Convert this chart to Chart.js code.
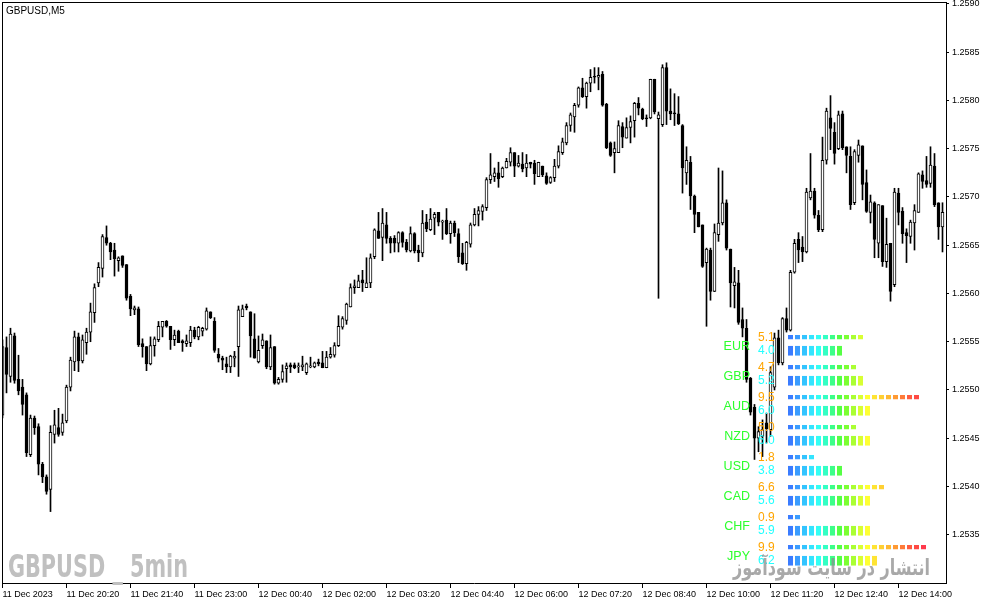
<!DOCTYPE html>
<html>
<head>
<meta charset="utf-8">
<script src="https://cdn.jsdelivr.net/npm/chart.js@4"></script>
<style>
  body { margin: 0; background: #fff; }
  #wrap { position: relative; width: 987px; height: 605px; }
  #main { position: absolute; left: 0; top: 0; }
  #strength { position: absolute; left: 700px; top: 329px; }
</style>
</head>
<body>
<div id="wrap">
  <canvas id="main" width="987" height="605"></canvas>
  <canvas id="strength" width="246" height="254"></canvas>
</div>
<script>
// GBPUSD M5 candles (one entry per bar)
const opens = [
  1.25474,1.25544,1.25514,1.25556,1.25511,1.25503,1.25495,1.25433,1.25471,1.25462,
  1.25423,1.25410,1.25397,1.25454,1.25461,1.25456,1.25468,1.25503,1.25529,1.25555,
  1.25530,1.25549,1.25560,1.25580,1.25611,1.25626,1.25658,1.25652,1.25645,1.25634,
  1.25639,1.25630,1.25597,1.25583,1.25584,1.25548,1.25545,1.25527,1.25546,1.25552,
  1.25565,1.25571,1.25566,1.25552,1.25561,1.25551,1.25548,1.25549,1.25562,1.25555,
  1.25561,1.25563,1.25581,1.25571,1.25537,1.25533,1.25527,1.25524,1.25533,1.25545,
  1.25576,1.25587,1.25581,1.25553,1.25529,1.25546,1.25551,1.25524,1.25545,1.25507,
  1.25511,1.25522,1.25526,1.25526,1.25524,1.25524,1.25518,1.25524,1.25524,1.25529,
  1.25528,1.25523,1.25534,1.25536,1.25546,1.25565,1.25572,1.25586,1.25606,1.25606,
  1.25614,1.25606,1.25611,1.25638,1.25665,1.25658,1.25671,1.25657,1.25657,1.25652,
  1.25663,1.25653,1.25644,1.25662,1.25645,1.25642,1.25674,1.25666,1.25678,1.25684,
  1.25674,1.25676,1.25662,1.25673,1.25662,1.25642,1.25631,1.25651,1.25671,1.25682,
  1.25685,1.25689,1.25718,1.25721,1.25725,1.25721,1.25730,1.25736,1.25746,1.25732,
  1.25734,1.25730,1.25736,1.25735,1.25721,1.25732,1.25722,1.25715,1.25720,1.25732,
  1.25746,1.25756,1.25774,1.25783,1.25795,1.25813,1.25804,1.25818,1.25825,1.25824,
  1.25827,1.25796,1.25756,1.25746,1.25746,1.25773,1.25761,1.25772,1.25779,1.25797,
  1.25791,1.25782,1.25782,1.25822,1.25781,1.25775,1.25834,1.25789,1.25787,1.25786,
  1.25774,1.25725,1.25736,1.25701,1.25684,1.25671,1.25632,1.25645,1.25602,1.25661,
  1.25673,1.25694,1.25646,1.25608,1.25611,1.25573,1.25564,1.25512,1.25482,1.25450,
  1.25452,1.25466,1.25459,1.25503,1.25554,1.25528,1.25574,1.25562,1.25622,1.25656,
  1.25648,1.25643,1.25699,1.25706,1.25681,1.25666,1.25738,1.25782,1.25767,1.25750,
  1.25786,1.25752,1.25742,1.25694,1.25743,1.25753,1.25715,1.25684,1.25694,1.25652,
  1.25691,1.25633,1.25652,1.25609,1.25704,1.25685,1.25663,1.25659,1.25673,1.25684,
  1.25723,1.25717,1.25714,1.25732,1.25694,1.25669
];
const highs = [
  1.25552,1.25555,1.25564,1.25559,1.25536,1.25511,1.25497,1.25474,1.25473,1.25465,
  1.25425,1.25412,1.25463,1.25479,1.25481,1.25475,1.25505,1.25534,1.25561,1.25559,
  1.25557,1.25564,1.25590,1.25610,1.25632,1.25661,1.25670,1.25653,1.25652,1.25638,
  1.25639,1.25630,1.25599,1.25587,1.25586,1.25553,1.25545,1.25555,1.25555,1.25571,
  1.25571,1.25572,1.25566,1.25562,1.25562,1.25552,1.25557,1.25566,1.25565,1.25566,
  1.25565,1.25585,1.25581,1.25575,1.25543,1.25535,1.25534,1.25536,1.25540,1.25587,
  1.25588,1.25589,1.25581,1.25579,1.25556,1.25558,1.25551,1.25557,1.25545,1.25513,
  1.25526,1.25528,1.25528,1.25528,1.25528,1.25535,1.25528,1.25534,1.25529,1.25532,
  1.25540,1.25540,1.25544,1.25549,1.25577,1.25576,1.25590,1.25610,1.25614,1.25619,
  1.25624,1.25637,1.25641,1.25667,1.25684,1.25688,1.25684,1.25659,1.25660,1.25664,
  1.25664,1.25656,1.25669,1.25663,1.25650,1.25686,1.25682,1.25688,1.25684,1.25684,
  1.25676,1.25688,1.25675,1.25675,1.25667,1.25652,1.25654,1.25673,1.25688,1.25690,
  1.25692,1.25720,1.25745,1.25730,1.25736,1.25731,1.25740,1.25751,1.25746,1.25743,
  1.25746,1.25744,1.25736,1.25738,1.25736,1.25732,1.25725,1.25721,1.25739,1.25753,
  1.25761,1.25777,1.25787,1.25797,1.25814,1.25823,1.25819,1.25832,1.25834,1.25834,
  1.25830,1.25797,1.25757,1.25757,1.25779,1.25777,1.25782,1.25784,1.25798,1.25803,
  1.25792,1.25785,1.25822,1.25822,1.25788,1.25837,1.25839,1.25812,1.25807,1.25804,
  1.25775,1.25752,1.25742,1.25702,1.25684,1.25671,1.25647,1.25647,1.25672,1.25730,
  1.25727,1.25697,1.25646,1.25627,1.25624,1.25585,1.25573,1.25513,1.25485,1.25462,
  1.25469,1.25476,1.25524,1.25559,1.25562,1.25575,1.25585,1.25624,1.25656,1.25663,
  1.25659,1.25709,1.25745,1.25709,1.25686,1.25762,1.25792,1.25805,1.25777,1.25789,
  1.25789,1.25752,1.25752,1.25749,1.25759,1.25753,1.25728,1.25702,1.25695,1.25692,
  1.25691,1.25678,1.25652,1.25709,1.25709,1.25689,1.25667,1.25676,1.25692,1.25725,
  1.25727,1.25742,1.25752,1.25745,1.25694,1.25694
];
const lows = [
  1.25471,1.25497,1.25508,1.25507,1.25495,1.25474,1.25431,1.25431,1.25454,1.25412,
  1.25404,1.25392,1.25374,1.25445,1.25452,1.25453,1.25466,1.25499,1.25520,1.25519,
  1.25528,1.25537,1.25550,1.25570,1.25607,1.25617,1.25650,1.25635,1.25618,1.25623,
  1.25627,1.25593,1.25577,1.25578,1.25545,1.25534,1.25520,1.25526,1.25535,1.25550,
  1.25555,1.25565,1.25542,1.25546,1.25549,1.25540,1.25545,1.25545,1.25553,1.25552,
  1.25556,1.25562,1.25574,1.25539,1.25529,1.25521,1.25518,1.25518,1.25524,1.25514,
  1.25576,1.25583,1.25534,1.25533,1.25528,1.25543,1.25522,1.25521,1.25506,1.25506,
  1.25508,1.25508,1.25518,1.25522,1.25518,1.25520,1.25516,1.25523,1.25523,1.25525,
  1.25523,1.25523,1.25533,1.25534,1.25545,1.25563,1.25568,1.25586,1.25600,1.25606,
  1.25602,1.25606,1.25606,1.25636,1.25657,1.25634,1.25652,1.25642,1.25643,1.25643,
  1.25648,1.25643,1.25643,1.25642,1.25633,1.25638,1.25664,1.25665,1.25661,1.25670,
  1.25656,1.25661,1.25652,1.25659,1.25632,1.25630,1.25624,1.25648,1.25670,1.25670,
  1.25676,1.25686,1.25714,1.25716,1.25710,1.25720,1.25730,1.25732,1.25721,1.25731,
  1.25726,1.25721,1.25730,1.25713,1.25721,1.25721,1.25713,1.25714,1.25716,1.25730,
  1.25744,1.25754,1.25768,1.25767,1.25793,1.25803,1.25792,1.25809,1.25818,1.25811,
  1.25794,1.25750,1.25742,1.25725,1.25746,1.25751,1.25761,1.25756,1.25762,1.25785,
  1.25780,1.25773,1.25781,1.25786,1.25595,1.25773,1.25775,1.25780,1.25774,1.25775,
  1.25704,1.25713,1.25687,1.25663,1.25669,1.25627,1.25566,1.25593,1.25602,1.25654,
  1.25671,1.25645,1.25586,1.25585,1.25568,1.25555,1.25508,1.25474,1.25428,1.25436,
  1.25431,1.25445,1.25452,1.25500,1.25526,1.25526,1.25560,1.25561,1.25621,1.25632,
  1.25633,1.25642,1.25697,1.25678,1.25664,1.25664,1.25734,1.25749,1.25734,1.25749,
  1.25749,1.25725,1.25687,1.25692,1.25736,1.25697,1.25684,1.25673,1.25637,1.25637,
  1.25628,1.25627,1.25592,1.25607,1.25671,1.25652,1.25632,1.25652,1.25645,1.25684,
  1.25709,1.25710,1.25710,1.25690,1.25656,1.25643
];
const closes = [
  1.25545,1.25516,1.25558,1.25510,1.25499,1.25485,1.25435,1.25471,1.25461,1.25423,
  1.25410,1.25395,1.25456,1.25464,1.25454,1.25466,1.25503,1.25531,1.25555,1.25530,
  1.25552,1.25560,1.25581,1.25606,1.25627,1.25659,1.25652,1.25643,1.25636,1.25637,
  1.25629,1.25595,1.25584,1.25585,1.25547,1.25545,1.25527,1.25546,1.25553,1.25566,
  1.25571,1.25566,1.25552,1.25557,1.25549,1.25549,1.25551,1.25562,1.25555,1.25565,
  1.25564,1.25582,1.25575,1.25541,1.25533,1.25531,1.25524,1.25535,1.25535,1.25583,
  1.25584,1.25585,1.25556,1.25533,1.25541,1.25552,1.25524,1.25544,1.25507,1.25511,
  1.25519,1.25525,1.25524,1.25523,1.25525,1.25526,1.25527,1.25525,1.25528,1.25527,
  1.25523,1.25534,1.25537,1.25546,1.25566,1.25574,1.25589,1.25606,1.25608,1.25613,
  1.25611,1.25611,1.25637,1.25666,1.25657,1.25673,1.25657,1.25652,1.25652,1.25663,
  1.25653,1.25645,1.25662,1.25644,1.25642,1.25673,1.25667,1.25677,1.25682,1.25674,
  1.25675,1.25662,1.25673,1.25663,1.25638,1.25631,1.25653,1.25671,1.25682,1.25686,
  1.25690,1.25718,1.25723,1.25725,1.25719,1.25730,1.25737,1.25746,1.25732,1.25735,
  1.25729,1.25735,1.25734,1.25724,1.25736,1.25723,1.25714,1.25720,1.25732,1.25747,
  1.25757,1.25774,1.25785,1.25795,1.25813,1.25804,1.25818,1.25824,1.25824,1.25826,
  1.25795,1.25751,1.25743,1.25750,1.25774,1.25762,1.25772,1.25778,1.25797,1.25792,
  1.25781,1.25781,1.25822,1.25788,1.25785,1.25834,1.25789,1.25786,1.25786,1.25776,
  1.25730,1.25738,1.25701,1.25682,1.25669,1.25628,1.25646,1.25602,1.25663,1.25673,
  1.25694,1.25647,1.25611,1.25612,1.25570,1.25564,1.25511,1.25477,1.25450,1.25457,
  1.25459,1.25460,1.25518,1.25554,1.25528,1.25574,1.25562,1.25622,1.25652,1.25645,
  1.25643,1.25705,1.25706,1.25681,1.25666,1.25738,1.25789,1.25771,1.25745,1.25785,
  1.25751,1.25743,1.25692,1.25747,1.25754,1.25713,1.25685,1.25695,1.25656,1.25692,
  1.25633,1.25651,1.25602,1.25705,1.25684,1.25662,1.25660,1.25674,1.25686,1.25724,
  1.25716,1.25713,1.25733,1.25692,1.25669,1.25684
];

// axis labels
const xTickBars = [0, 16, 32, 48, 64, 80, 96, 112, 128, 144, 160, 176, 192, 208, 224];
const xTickLabels = ['11 Dec 2023', '11 Dec 20:20', '11 Dec 21:40', '11 Dec 23:00', '12 Dec 00:40',
  '12 Dec 02:00', '12 Dec 03:20', '12 Dec 04:40', '12 Dec 06:00', '12 Dec 07:20', '12 Dec 08:40',
  '12 Dec 10:00', '12 Dec 11:20', '12 Dec 12:40', '12 Dec 14:00'];
const yTickValues = [1.2535, 1.2540, 1.2545, 1.2550, 1.2555, 1.2560, 1.2565, 1.2570, 1.2575, 1.2580, 1.2585, 1.2590];

// currency strength panel
const currencies = ['EUR', 'GBP', 'AUD', 'NZD', 'USD', 'CAD', 'CHF', 'JPY'];
const strengthUpper = [5.1, 4.7, 9.5, 5.0, 1.8, 6.6, 0.9, 9.9];
const strengthLower = [4.0, 5.2, 6.0, 6.0, 3.8, 5.6, 5.9, 6.2];

const segColors = ['#3a7cff', '#3a9cff', '#33c4ff', '#33e4ff', '#33fff4', '#33ffc4', '#3cff88', '#55ff44',
  '#7cff33', '#aaff33', '#d8ff33', '#ffff33', '#ffe433', '#ffd033', '#ffb833', '#ff9a33',
  '#ff7a38', '#ff5c40', '#ff4a44', '#ff3a4c'];

const uiFont = '"Liberation Sans", Arial, sans-serif';
Chart.defaults.font.family = uiFont;

// no extra room for labels hanging past the axis ends
function noPad(s) { s.paddingTop = 0; s.paddingBottom = 0; s.paddingLeft = 0; s.paddingRight = 0; }

// ---- main candlestick chart ----
const bodyFill = opens.map((o, i) => closes[i] >= o ? '#ffffff' : '#000000');

const framePlugin = {
  id: 'frame',
  beforeDatasetsDraw(chart) {
    const ctx = chart.ctx;
    ctx.save();
    ctx.fillStyle = '#c0c0c0';
    ctx.font = 'bold 32px "Liberation Sans Narrow", "DejaVu Sans Condensed", "Liberation Sans", sans-serif';
    ctx.textBaseline = 'alphabetic';
    const txt = 'GBPUSD _ 5min';
    const w = ctx.measureText(txt).width;
    ctx.translate(8, 577);
    ctx.scale(180 / w, 1);
    ctx.fillText(txt, 0, 0);
    ctx.restore();
  },
  afterDraw(chart) {
    const { ctx, chartArea: a } = chart;
    ctx.save();
    ctx.fillStyle = '#000';
    ctx.fillRect(a.left, a.top, a.right - a.left, 1);
    ctx.fillRect(a.left, a.top, 1, a.bottom - a.top);
    ctx.font = '10px ' + uiFont;
    ctx.textBaseline = 'alphabetic';
    ctx.fillText('GBPUSD,M5', 6, 14);
    ctx.restore();
  }
};

new Chart(document.getElementById('main'), {
  type: 'bar',
  data: {
    datasets: [
      {
        label: 'body',
        data: opens.map((o, i) => ({ x: i, y: [o, closes[i]] })),
        backgroundColor: bodyFill,
        borderColor: '#000',
        borderWidth: 1,
        borderSkipped: false,
        barThickness: 3,
        minBarLength: 1,
        grouped: false,
        order: 0
      },
      {
        label: 'wick',
        data: highs.map((h, i) => ({ x: i, y: [lows[i], h] })),
        backgroundColor: '#000',
        barThickness: 1,
        grouped: false,
        order: 1
      }
    ]
  },
  options: {
    responsive: false,
    animation: false,
    devicePixelRatio: 1,
    layout: { padding: { left: 2, top: 2 } },
    plugins: { legend: { display: false }, tooltip: { enabled: false } },
    scales: {
      x: {
        type: 'linear',
        offset: false,
        min: -0.125,
        max: 235.875,
        afterBuildTicks: s => { s.ticks = xTickBars.map(v => ({ value: v })); },
        afterFit: s => { s.height = 22; noPad(s); },
        grid: { drawOnChartArea: false, offset: false, tickLength: 5, color: '#000' },
        border: { color: '#000' },
        ticks: {
          align: 'start',
          padding: 1,
          autoSkip: false,
          maxRotation: 0,
          minRotation: 0,
          color: '#000',
          font: { size: 9 },
          callback: (v, i) => xTickLabels[i]
        }
      },
      y: {
        position: 'right',
        min: 1.25300,
        max: 1.25902,
        afterBuildTicks: s => { s.ticks = yTickValues.map(v => ({ value: v })); },
        afterFit: s => { s.width = 41; noPad(s); },
        grid: { drawOnChartArea: false, tickLength: 3, color: '#000' },
        border: { color: '#000' },
        ticks: {
          padding: 3,
          color: '#000',
          font: { size: 9 },
          callback: v => v.toFixed(4)
        }
      }
    }
  },
  plugins: [framePlugin]
});

// ---- strength overlay ----
const segCount = 20;
const stDatasets = [];
[['up', strengthUpper, 0.34], ['low', strengthLower, 0.75]].forEach(([stack, vals, bp]) => {
  for (let s = 0; s < segCount; s++) {
    stDatasets.push({
      stack: stack,
      data: vals.map(v => Math.ceil(v * 2) > s ? 0.5 : null),
      backgroundColor: segColors[s],
      borderColor: 'rgba(0,0,0,0)',
      borderWidth: { right: 2 },
      borderSkipped: false,
      barPercentage: bp,
      categoryPercentage: 0.887
    });
  }
});

const labelPlugin = {
  id: 'strengthLabels',
  afterDatasetsDraw(chart) {
    const ctx = chart.ctx;
    const x0 = chart.scales.x.getPixelForValue(0) - 30;
    const up = chart.getDatasetMeta(0).data;
    const lo = chart.getDatasetMeta(segCount).data;
    ctx.save();
    ctx.font = '12px ' + uiFont;
    ctx.textBaseline = 'middle';
    ctx.textAlign = 'left';
    currencies.forEach((c, i) => {
      ctx.fillStyle = '#ffa500';
      ctx.fillText(strengthUpper[i].toFixed(1), x0, up[i].y);
      ctx.fillStyle = '#22ffff';
      ctx.fillText(strengthLower[i].toFixed(1), x0, lo[i].y);
    });
    // site watermark
    ctx.fillStyle = 'rgba(140,140,140,0.75)';
    ctx.font = 'bold 22px "DejaVu Sans", sans-serif';
    ctx.textBaseline = 'alphabetic';
    const txt = 'انتشار در سایت سودآموز';
    const w = ctx.measureText(txt).width;
    ctx.translate(33, 246);
    ctx.scale(197 / w, 1);
    ctx.fillText(txt, 0, 0);
    ctx.restore();
  }
};

new Chart(document.getElementById('strength'), {
  type: 'bar',
  data: { labels: currencies, datasets: stDatasets },
  options: {
    indexAxis: 'y',
    responsive: false,
    animation: false,
    devicePixelRatio: 1,
    layout: { padding: { bottom: 14 } },
    plugins: { legend: { display: false }, tooltip: { enabled: false } },
    scales: {
      x: { display: false, min: 0, max: 11.2857, stacked: true },
      y: {
        afterFit: s => { s.width = 88; noPad(s); },
        grid: { display: false, drawTicks: false },
        border: { display: false },
        ticks: { padding: 38, labelOffset: 3, color: '#2cff2c', font: { size: 12.5 } }
      }
    }
  },
  plugins: [labelPlugin]
});
</script>
</body>
</html>
